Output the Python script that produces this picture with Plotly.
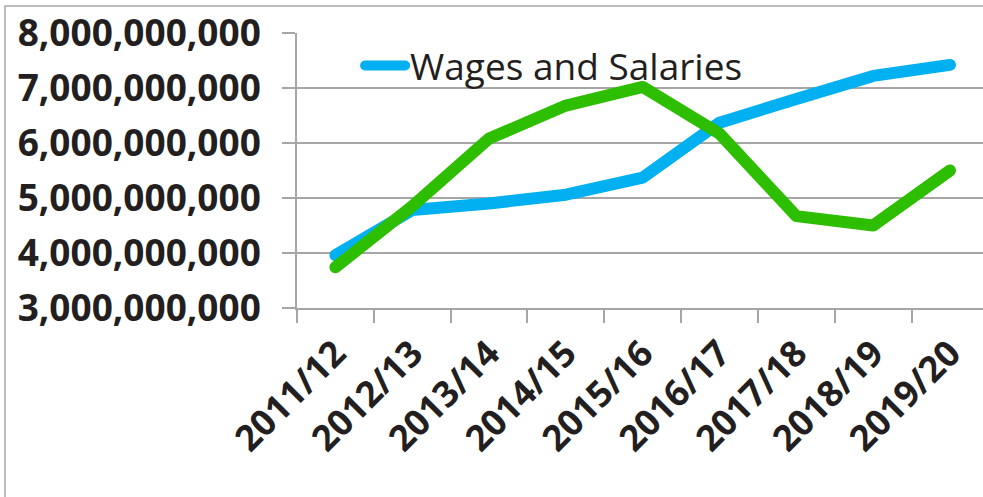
import plotly.graph_objects as go

years = ["2011/12", "2012/13", "2013/14", "2014/15", "2015/16",
         "2016/17", "2017/18", "2018/19", "2019/20"]
wages = [3.96e9, 4.78e9, 4.90e9, 5.06e9, 5.37e9, 6.37e9, 6.80e9, 7.22e9, 7.42e9]
other = [3.74e9, 4.85e9, 6.08e9, 6.68e9, 7.02e9, 6.17e9, 4.67e9, 4.50e9, 5.50e9]
y_ticks = [3e9, 4e9, 5e9, 6e9, 7e9, 8e9]
y_tick_text = ["3,000,000,000", "4,000,000,000", "5,000,000,000",
               "6,000,000,000", "7,000,000,000", "8,000,000,000"]

fig = go.Figure()
fig.add_trace(go.Scatter(x=years, y=wages, mode="lines", name="Wages and Salaries",
                         line=dict(color="#00B0F0", width=12)))
fig.add_trace(go.Scatter(x=years, y=other, mode="lines", name="Other",
                         showlegend=False,
                         line=dict(color="#2DBE00", width=12)))

grid = "#A6A6A6"
fx0 = (5 - 297) / 686
fy1 = (308 - 6) / 275
fig.update_layout(
    width=983, height=497,
    margin=dict(l=297, r=0, t=33, b=189, pad=0),
    paper_bgcolor="white", plot_bgcolor="white",
    font=dict(family="Open Sans", color="#231F20"),
    showlegend=True,
    legend=dict(x=0.092, y=0.88, xanchor="left", yanchor="middle",
                bgcolor="rgba(0,0,0,0)", font=dict(size=37, family="Open Sans", color="#231F20"),
                itemwidth=40),
    xaxis=dict(type="category", showgrid=False, showline=True, linecolor=grid, linewidth=1.5,
               ticks="outside", tickson="boundaries", ticklen=13, tickcolor=grid, tickwidth=1.5,
               tickangle=-45, tickfont=dict(size=36, family="Open Sans", color="#231F20", weight="bold"),
               ticklabelstandoff=8, range=[-0.5, 8.43]),
    yaxis=dict(range=[3e9, 8e9], tickvals=y_ticks, ticktext=y_tick_text,
               showgrid=True, gridcolor=grid, gridwidth=1.5,
               showline=True, linecolor=grid, linewidth=1.5,
               ticks="outside", ticklen=13, tickcolor=grid, tickwidth=1.5,
               tickfont=dict(size=37, family="Open Sans", color="#231F20", weight="bold"),
               ticklabelstandoff=14, zeroline=False),
    shapes=[dict(type="path", xref="paper", yref="paper",
                 path=f"M {fx0},-1 L {fx0},{fy1} L 1.5,{fy1}",
                 line=dict(color="#A6A6A6", width=1.5), layer="below")],
)

post = (
    "document.body.style.margin='0px';"
    "document.querySelectorAll('.scatterlayer path.js-line, .legend path.js-line')"
    ".forEach(function(p){p.style.strokeLinecap='round';p.style.strokeLinejoin='round';});"
)
fig.write_html("out.html", config={"displayModeBar": False}, post_script=post)
